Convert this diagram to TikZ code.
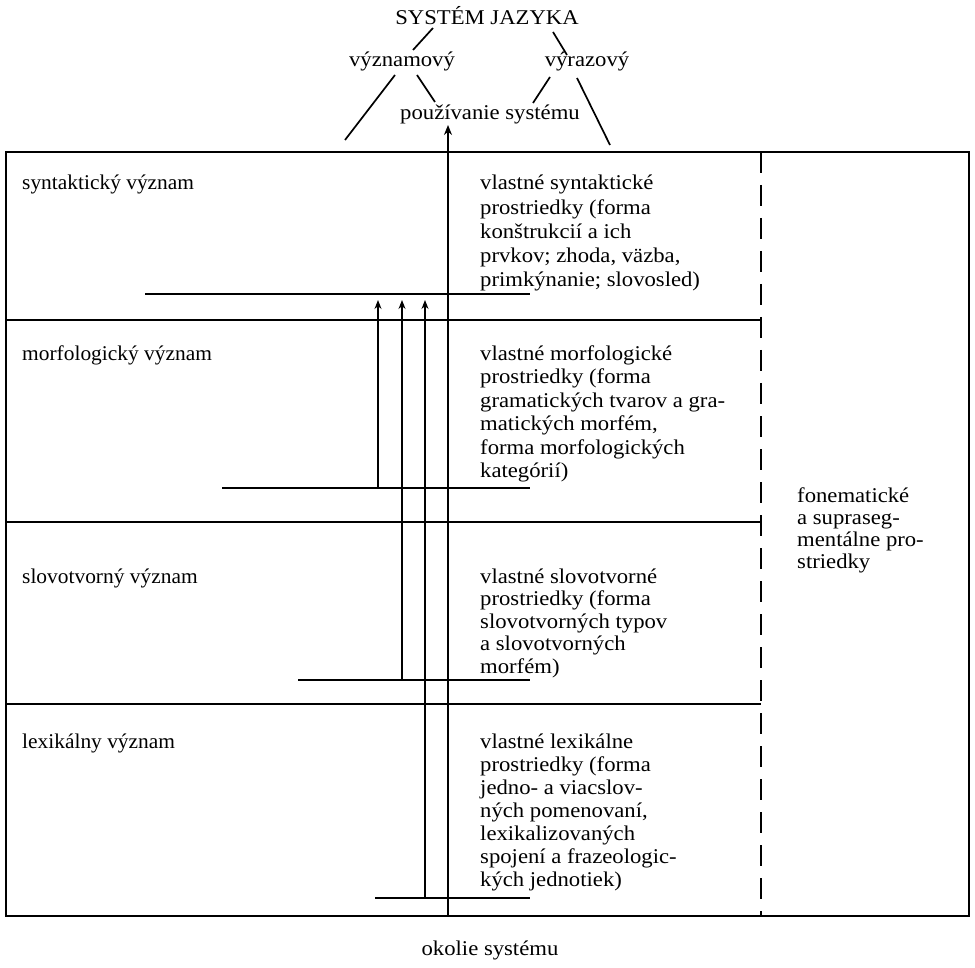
\documentclass[tikz,border=0pt]{standalone}
\usepackage{fontspec}
\setmainfont{Liberation Serif}[FakeStretch=1.08]
\newfontfamily\lblfont{Liberation Serif}[FakeStretch=1.02]
\usetikzlibrary{arrows.meta}
\begin{document}
\begin{tikzpicture}[x=1pt,y=-1pt,
  every node/.style={inner sep=0pt},
  thickline/.style={line width=2.5pt},
  levelline/.style={line width=1.4pt},
  treeline/.style={line width=1.7pt},
  dashline/.style={line width=2.2pt, dash pattern=on 21pt off 12pt},
  arr/.style={-{Stealth[length=9pt,width=7pt]}, line width=1.2pt},
  mainarr/.style={-{Stealth[length=10pt,width=8pt]}, line width=2.4pt},
  lbl/.style={anchor=base west, font=\lblfont\fontsize{21}{23.5}\selectfont},
  txt/.style={anchor=base west, font=\fontsize{21}{#1}\selectfont},
  ctr/.style={anchor=base, font=\fontsize{21}{23.5}\selectfont},
]
\useasboundingbox (0,0) rectangle (975,968);

% --- top tree ---
\node[ctr] (sys) at (487,25) {SYSTÉM JAZYKA};
\node[ctr] (vyzn) at (402,67) {významový};
\node[ctr] (vyraz) at (587,67) {výrazový};
\node[ctr] (pouz) at (490,120) {používanie systému};
\node[ctr] (okolie) at (490,955) {okolie systému};

\coordinate (s1) at (433,28); \coordinate (v1) at (413,50);
\coordinate (s2) at (553,32); \coordinate (r1) at (567,55);
\coordinate (v2) at (395,75); \coordinate (legL) at (345,140);
\coordinate (v3) at (417,75); \coordinate (p1) at (435,102);
\coordinate (r2) at (550,77); \coordinate (p2) at (533,103);
\coordinate (r3) at (577,78); \coordinate (legR) at (610,145);
\draw[treeline] (s1) -- (v1);
\draw[treeline] (s2) -- (r1);
\draw[treeline] (v2) -- (legL);
\draw[treeline] (v3) -- (p1);
\draw[treeline] (r2) -- (p2);
\draw[treeline] (r3) -- (legR);

% --- frame ---
\coordinate (TL) at (6,152);
\coordinate (BR) at (969,916);
\coordinate (dashTop) at (761,152);
\coordinate (dashBot) at (761,916);
\draw[thickline] (TL) rectangle (BR);
\draw[dashline] (dashTop) -- (dashBot);

% dividers
\coordinate (d1a) at (6,320); \coordinate (d1b) at (761,320);
\coordinate (d2a) at (6,522); \coordinate (d2b) at (761,522);
\coordinate (d3a) at (6,704); \coordinate (d3b) at (761,704);
\draw[thickline] (d1a) -- (d1b);
\draw[thickline] (d2a) -- (d2b);
\draw[thickline] (d3a) -- (d3b);

% level lines
\coordinate (l1a) at (145,294); \coordinate (l1b) at (530,294);
\coordinate (l2a) at (222,488); \coordinate (l2b) at (530,488);
\coordinate (l3a) at (298,680); \coordinate (l3b) at (530,680);
\coordinate (l4a) at (375,898); \coordinate (l4b) at (530,898);
\draw[levelline] (l1a) -- (l1b);
\draw[levelline] (l2a) -- (l2b);
\draw[levelline] (l3a) -- (l3b);
\draw[levelline] (l4a) -- (l4b);

% arrows
\coordinate (a1s) at (378,488); \coordinate (a1e) at (378,300);
\coordinate (a2s) at (402,680); \coordinate (a2e) at (402,300);
\coordinate (a3s) at (425,898); \coordinate (a3e) at (425,300);
\draw[arr] (a1s) -- (a1e);
\draw[arr] (a2s) -- (a2e);
\draw[arr] (a3s) -- (a3e);
\coordinate (ms) at (448,916); \coordinate (me) at (448,125);
\draw[mainarr] (ms) -- (me);

% --- left labels ---
\node[lbl] (synt) at (22,190) {syntaktický význam};
\node[lbl] (morf) at (22,360) {morfologický význam};
\node[lbl] (slov) at (22,583) {slovotvorný význam};
\node[lbl] (lex)  at (22,748) {lexikálny význam};

% --- middle texts ---
\node[txt=24.2] (ts) at (480,190) {\begin{tabular}[t]{@{}l@{}}vlastné syntaktické\\prostriedky (forma\\konštrukcií a ich\\prvkov; zhoda, väzba,\\primkýnanie; slovosled)\end{tabular}};
\node[txt=23.6] (tm) at (480,360) {\begin{tabular}[t]{@{}l@{}}vlastné morfologické\\prostriedky (forma\\gramatických tvarov a gra-\\matických morfém,\\forma morfologických\\kategórií)\end{tabular}};
\node[txt=22.5] (tsl) at (480,583) {\begin{tabular}[t]{@{}l@{}}vlastné slovotvorné\\prostriedky (forma\\slovotvorných typov\\a slovotvorných\\morfém)\end{tabular}};
\node[txt=23] (tl) at (480,748) {\begin{tabular}[t]{@{}l@{}}vlastné lexikálne\\prostriedky (forma\\jedno- a viacslov-\\ných pomenovaní,\\lexikalizovaných\\spojení a frazeologic-\\kých jednotiek)\end{tabular}};

% --- right text ---
\node[txt=22] (fon) at (797,502) {\begin{tabular}[t]{@{}l@{}}fonematické\\a supraseg-\\mentálne pro-\\striedky\end{tabular}};
\end{tikzpicture}
\end{document}
